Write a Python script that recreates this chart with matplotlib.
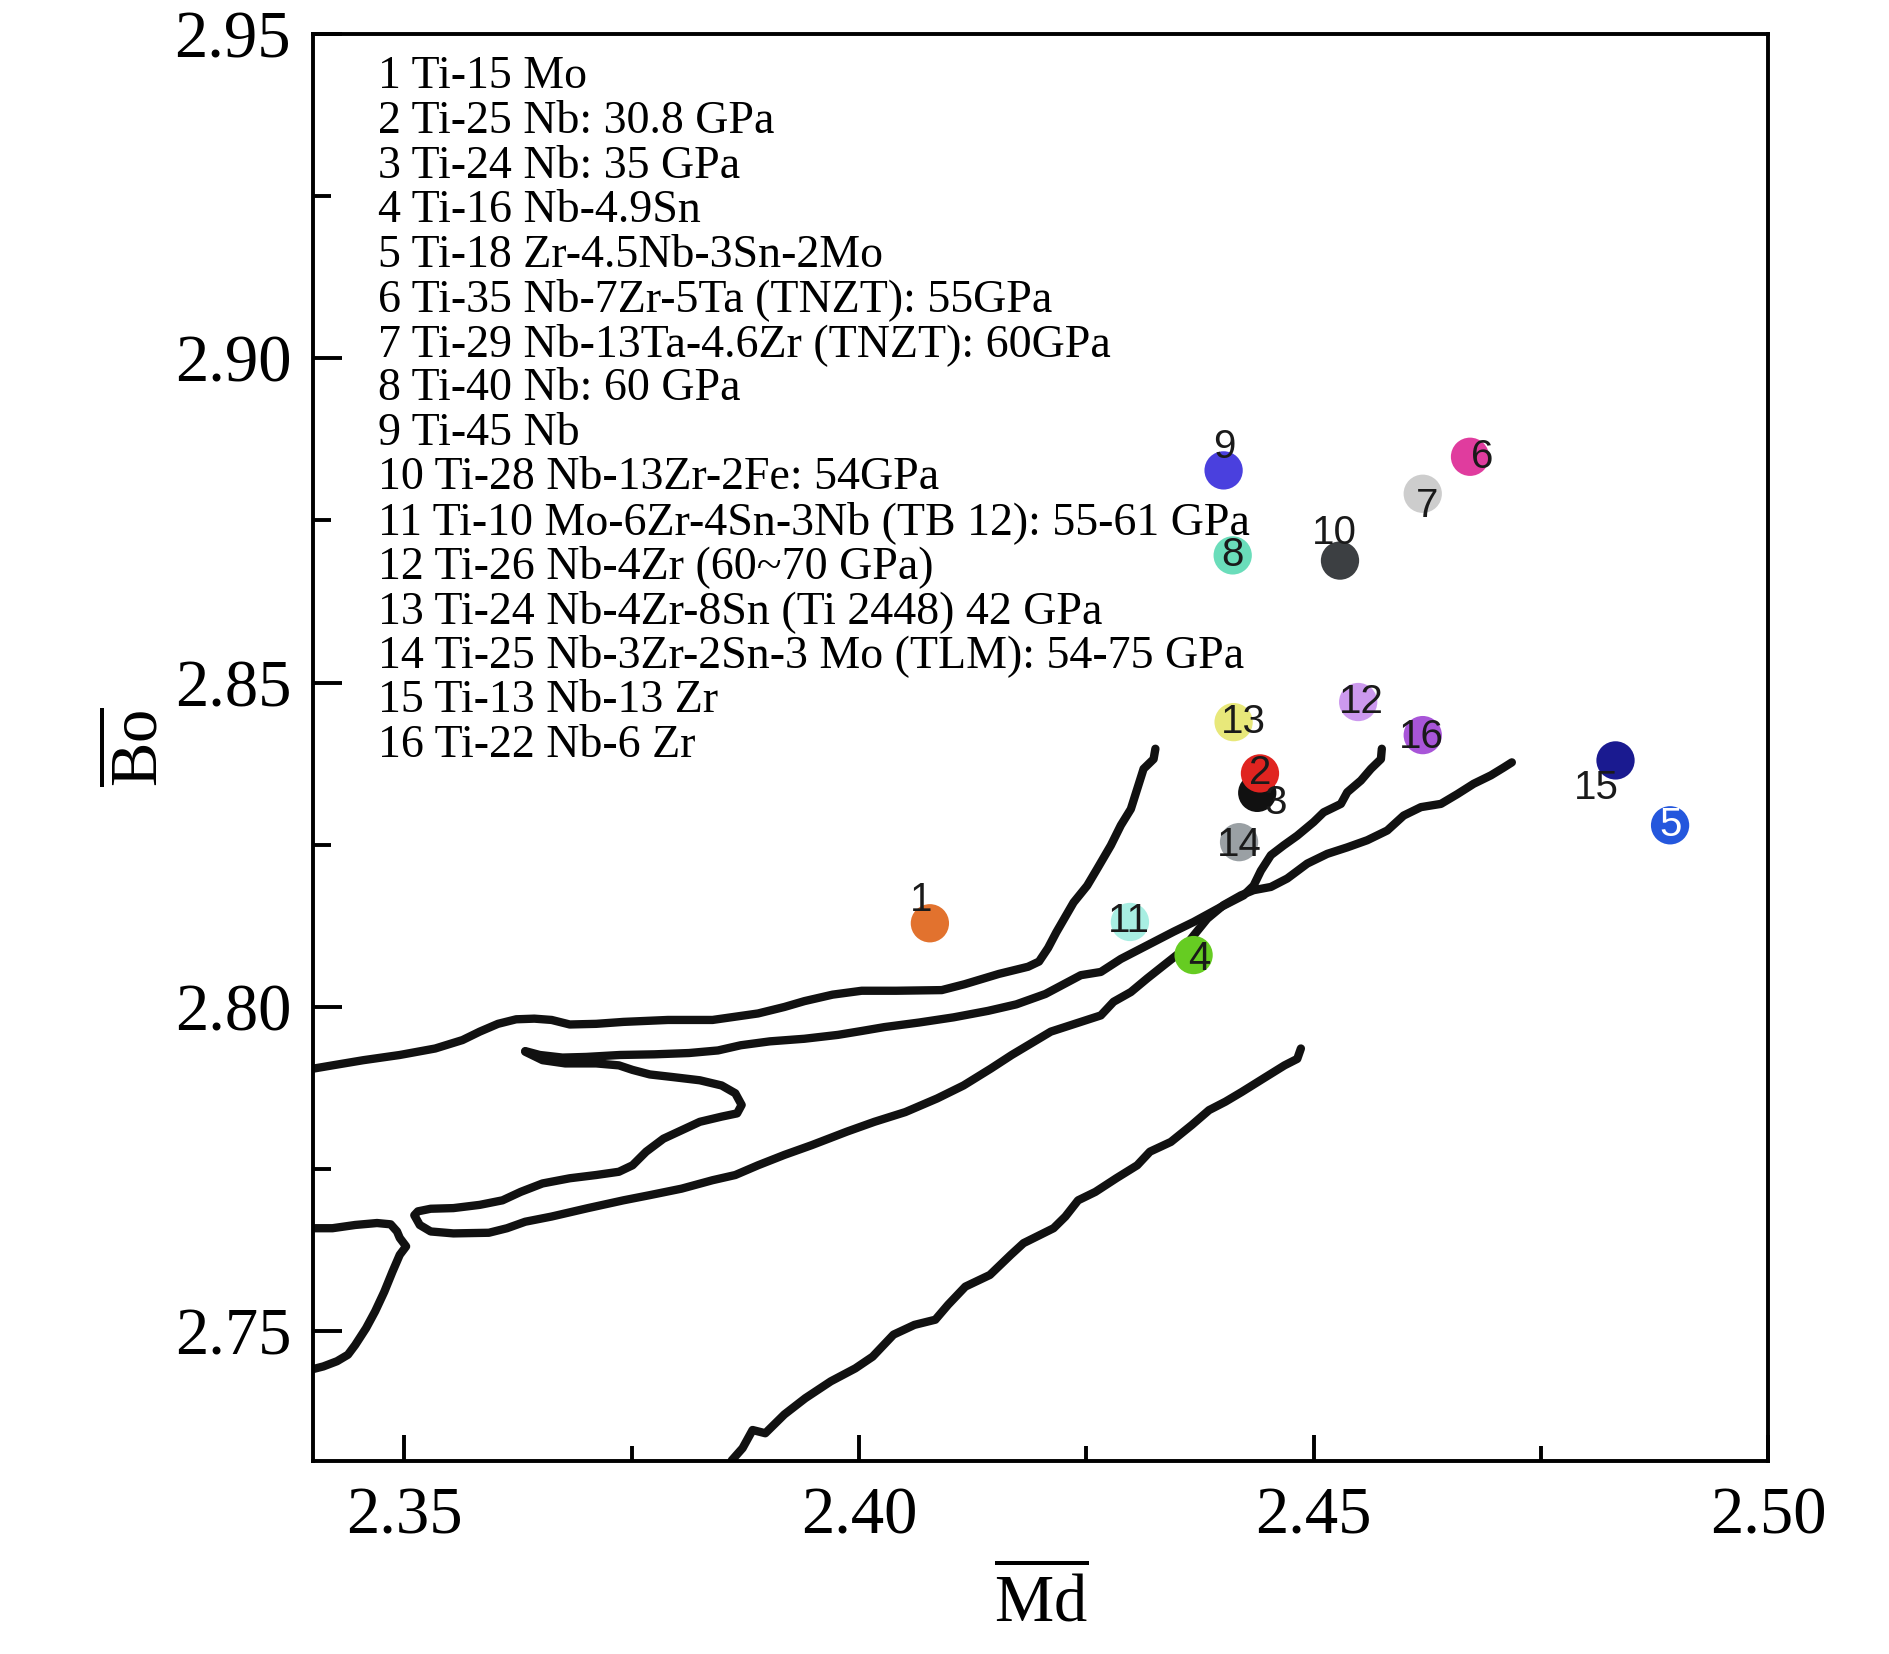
import numpy as np
import matplotlib
matplotlib.use("Agg")
import matplotlib.pyplot as plt
from matplotlib.ticker import MultipleLocator

plt.rcParams['font.family'] = ['Liberation Serif', 'DejaVu Serif']
plt.rcParams['mathtext.fontset'] = 'custom'
plt.rcParams['mathtext.rm'] = 'Liberation Serif'

# alloy points: (Md, Bo)
alloy_ids = [str(i) for i in range(1, 17)]
md = [2.4078, 2.4441, 2.4438, 2.4368, 2.4892, 2.4672, 2.4620, 2.4411,
      2.4401, 2.4529, 2.4298, 2.4549, 2.4412, 2.4418, 2.4832, 2.4620]
bo = [2.8129, 2.8360, 2.8330, 2.8080, 2.8280, 2.8848, 2.8791, 2.8696,
      2.8827, 2.8688, 2.8131, 2.8470, 2.8439, 2.8254, 2.8380, 2.8419]
colors = ['#E2722E', '#E02420', '#111111', '#66CC22', '#2457DD', '#E03C9E',
          '#CDCDCD', '#6ADDBA', '#4A40DE', '#3C3F42', '#A8EEE2', '#CC99EE',
          '#E8E87A', '#9AA0A4', '#1A1A90', '#A855D8']

alloy_names = [
    '1 Ti-15 Mo',
    '2 Ti-25 Nb: 30.8 GPa',
    '3 Ti-24 Nb: 35 GPa',
    '4 Ti-16 Nb-4.9Sn',
    '5 Ti-18 Zr-4.5Nb-3Sn-2Mo',
    '6 Ti-35 Nb-7Zr-5Ta (TNZT): 55GPa',
    '7 Ti-29 Nb-13Ta-4.6Zr (TNZT): 60GPa',
    '8 Ti-40 Nb: 60 GPa',
    '9 Ti-45 Nb',
    '10 Ti-28 Nb-13Zr-2Fe: 54GPa',
    '11 Ti-10 Mo-6Zr-4Sn-3Nb (TB 12): 55-61 GPa',
    '12 Ti-26 Nb-4Zr (60~70 GPa)',
    '13 Ti-24 Nb-4Zr-8Sn (Ti 2448) 42 GPa',
    '14 Ti-25 Nb-3Zr-2Sn-3 Mo (TLM): 54-75 GPa',
    '15 Ti-13 Nb-13 Zr',
    '16 Ti-22 Nb-6 Zr',
]

# phase boundary lines
line_a_x = [2.3400, 2.3421, 2.3455, 2.3495, 2.3534, 2.3564, 2.3583, 2.3603, 2.3623, 2.3643,
            2.3662, 2.3682, 2.3711, 2.3741, 2.3790, 2.3839, 2.3889, 2.3918, 2.3940, 2.3971,
            2.4003, 2.4041, 2.4091, 2.4116, 2.4154, 2.4186, 2.4198, 2.4208, 2.4217, 2.4236,
            2.4251, 2.4262, 2.4277, 2.4288, 2.4299, 2.4306, 2.4313, 2.4324, 2.4326]
line_a_y = [2.7905, 2.7910, 2.7918, 2.7926, 2.7936, 2.7949, 2.7962, 2.7974, 2.7981, 2.7982,
            2.7980, 2.7973, 2.7974, 2.7977, 2.7980, 2.7980, 2.7990, 2.8000, 2.8009, 2.8019,
            2.8025, 2.8025, 2.8026, 2.8035, 2.8051, 2.8062, 2.8070, 2.8091, 2.8115, 2.8161,
            2.8187, 2.8213, 2.8249, 2.8280, 2.8305, 2.8336, 2.8367, 2.8382, 2.8398]

line_b_x = [2.3633, 2.3649, 2.3674, 2.3700, 2.3737, 2.3775, 2.3813, 2.3845, 2.3870, 2.3902,
            2.3940, 2.3977, 2.4003, 2.4028, 2.4066, 2.4104, 2.4142, 2.4173, 2.4205, 2.4244,
            2.4266, 2.4288, 2.4317, 2.4346, 2.4368, 2.4398, 2.4423, 2.4434, 2.4442, 2.4453,
            2.4467, 2.4482, 2.4500, 2.4511, 2.4530, 2.4537, 2.4552, 2.4563, 2.4574, 2.4575]
line_b_y = [2.7932, 2.7926, 2.7922, 2.7923, 2.7926, 2.7927, 2.7929, 2.7933, 2.7941, 2.7947,
            2.7951, 2.7957, 2.7963, 2.7969, 2.7976, 2.7984, 2.7994, 2.8004, 2.8020, 2.8049,
            2.8054, 2.8074, 2.8095, 2.8116, 2.8131, 2.8154, 2.8172, 2.8187, 2.8210, 2.8234,
            2.8249, 2.8264, 2.8285, 2.8300, 2.8313, 2.8331, 2.8349, 2.8367, 2.8382, 2.8398]

line_c_x = [2.3633, 2.3652, 2.3677, 2.3711, 2.3736, 2.3751, 2.3770, 2.3795, 2.3825, 2.3849,
            2.3864, 2.3871, 2.3866, 2.3849, 2.3825, 2.3805, 2.3785, 2.3766, 2.3751, 2.3736,
            2.3711, 2.3682, 2.3652, 2.3628, 2.3608, 2.3583, 2.3554, 2.3529, 2.3515, 2.3511,
            2.3517, 2.3529, 2.3554, 2.3593, 2.3613, 2.3633, 2.3662, 2.3702, 2.3741, 2.3770,
            2.3805, 2.3839, 2.3864, 2.3889, 2.3918, 2.3948, 2.3987, 2.4017, 2.4051, 2.4086,
            2.4115, 2.4145, 2.4168, 2.4211, 2.4244, 2.4266, 2.4280, 2.4299, 2.4317, 2.4335,
            2.4354, 2.4368, 2.4383, 2.4401, 2.4420, 2.4434, 2.4453, 2.4471, 2.4493, 2.4515,
            2.4537, 2.4559, 2.4581, 2.4599, 2.4618, 2.4640, 2.4658, 2.4676, 2.4695, 2.4709,
            2.4718]
line_c_y = [2.7931, 2.7918, 2.7913, 2.7913, 2.7910, 2.7903, 2.7896, 2.7892, 2.7887, 2.7879,
            2.7867, 2.7849, 2.7836, 2.7831, 2.7823, 2.7810, 2.7797, 2.7777, 2.7756, 2.7746,
            2.7741, 2.7736, 2.7728, 2.7715, 2.7702, 2.7695, 2.7690, 2.7689, 2.7685, 2.7679,
            2.7664, 2.7654, 2.7651, 2.7652, 2.7659, 2.7669, 2.7677, 2.7690, 2.7702, 2.7710,
            2.7720, 2.7733, 2.7741, 2.7756, 2.7772, 2.7787, 2.7808, 2.7823, 2.7838, 2.7859,
            2.7879, 2.7905, 2.7926, 2.7962, 2.7977, 2.7987, 2.8008, 2.8023, 2.8044, 2.8064,
            2.8085, 2.8110, 2.8136, 2.8157, 2.8172, 2.8180, 2.8185, 2.8198, 2.8221, 2.8236,
            2.8246, 2.8257, 2.8272, 2.8295, 2.8308, 2.8313, 2.8328, 2.8344, 2.8357, 2.8369,
            2.8377]

line_e_x = [2.3400, 2.3421, 2.3446, 2.3470, 2.3485, 2.3492, 2.3495, 2.3502, 2.3495, 2.3487,
            2.3478, 2.3468, 2.3458, 2.3446, 2.3438, 2.3426, 2.3411, 2.3400]
line_e_y = [2.7659, 2.7659, 2.7664, 2.7667, 2.7665, 2.7654, 2.7644, 2.7631, 2.7618, 2.7592,
            2.7561, 2.7531, 2.7505, 2.7479, 2.7464, 2.7454, 2.7446, 2.7442]

line_f_x = [2.3860, 2.3872, 2.3883, 2.3897, 2.3918, 2.3941, 2.3969, 2.3996, 2.4015, 2.4038,
            2.4061, 2.4084, 2.4098, 2.4117, 2.4144, 2.4167, 2.4181, 2.4214, 2.4227, 2.4241,
            2.4260, 2.4283, 2.4306, 2.4320, 2.4343, 2.4366, 2.4385, 2.4403, 2.4421, 2.4445,
            2.4468, 2.4482, 2.4486]
line_f_y = [2.7301, 2.7320, 2.7348, 2.7343, 2.7372, 2.7397, 2.7423, 2.7443, 2.7461, 2.7495,
            2.7510, 2.7518, 2.7541, 2.7569, 2.7587, 2.7618, 2.7636, 2.7659, 2.7677, 2.7702,
            2.7715, 2.7736, 2.7756, 2.7777, 2.7792, 2.7818, 2.7841, 2.7854, 2.7869, 2.7890,
            2.7910, 2.7920, 2.7936]

# label offsets (points) for the numbers next to the dots
label_dx = [-6.5, 0, 13.5, 4, 0, 9, 3, 0, 0.5, -4, -1, 2, 7, 0, -13.5, -1]
label_dy = [16.5, 0, -7, -3, 0, 0, -8.5, 0, 16.5, 19.5, 1, 0, 0, -2, -20, -1.5]
label_colors = ['#1a1a1a'] * 16
label_colors[4] = 'white'


fig = plt.figure(figsize=(18.9, 16.54), dpi=100)
ax = fig.add_axes([0.1658, 0.1166, 0.9356 - 0.1658, 0.9796 - 0.1166])

for lx, ly in [(line_a_x, line_a_y), (line_b_x, line_b_y), (line_c_x, line_c_y),
               (line_e_x, line_e_y), (line_f_x, line_f_y)]:
    ax.plot(lx, ly, color='#111111', lw=6, solid_capstyle='round',
            solid_joinstyle='round', zorder=2)

for i in range(len(md)):
    z = 4 if i == 1 else 3
    ax.scatter(md[i], bo[i], s=760, color=colors[i], edgecolors='none', zorder=z)
    ax.annotate(alloy_ids[i], (md[i], bo[i]), xytext=(label_dx[i], label_dy[i]),
                textcoords='offset points', ha='center', va='center',
                fontsize=29, family=['Liberation Sans', 'DejaVu Sans'],
                color=label_colors[i], zorder=5)

for k, name in enumerate(alloy_names):
    ax.text(0.0443, 0.9617 - k * 0.03121, name, transform=ax.transAxes,
            fontsize=33, ha='left', va='baseline', zorder=6)

ax.set_xlim(2.34, 2.50)
ax.set_ylim(2.73, 2.95)
ax.xaxis.set_major_locator(MultipleLocator(0.05))
ax.xaxis.set_minor_locator(MultipleLocator(0.025))
ax.yaxis.set_major_locator(MultipleLocator(0.05))
ax.yaxis.set_minor_locator(MultipleLocator(0.025))
ax.xaxis.set_major_formatter(matplotlib.ticker.FormatStrFormatter('%.2f'))
ax.yaxis.set_major_formatter(matplotlib.ticker.FormatStrFormatter('%.2f'))

ax.tick_params(axis='x', which='major', direction='in', length=19, width=2.8,
               labelsize=48, pad=18)
ax.tick_params(axis='x', which='minor', direction='in', length=11, width=2.8)
ax.tick_params(axis='y', which='major', direction='in', length=21, width=2.8,
               labelsize=48, pad=16)
ax.tick_params(axis='y', which='minor', direction='in', length=13, width=2.8)

for sp in ax.spines.values():
    sp.set_linewidth(2.8)

ax.set_xlabel(r'$\overline{\mathrm{Md}}$', fontsize=48)
ax.set_ylabel(r'$\overline{\mathrm{Bo}}$', fontsize=48)
ax.xaxis.set_label_coords(0.5, -0.074)
ax.yaxis.set_label_coords(-0.098, 0.5)

plt.savefig('out.png', dpi=100)
